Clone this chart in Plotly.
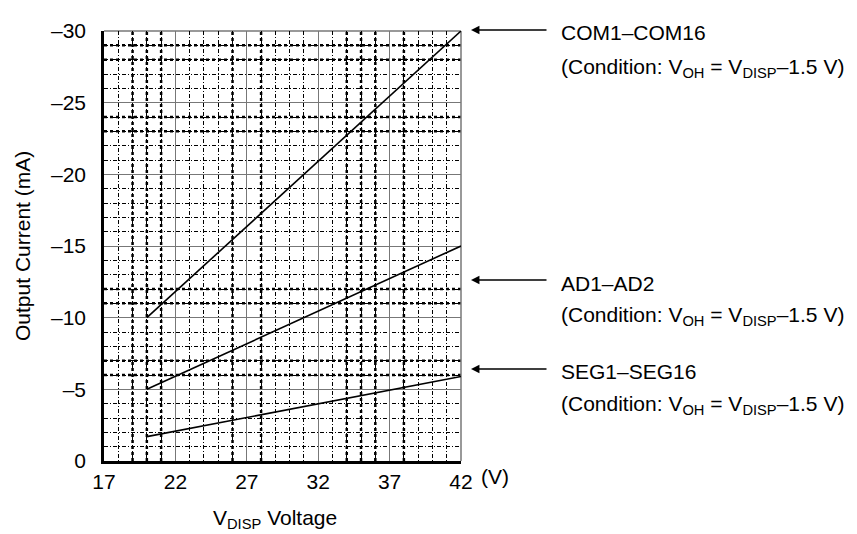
import plotly.graph_objects as go

# ---- data ----
com_x = [20, 42]
com_y = [-10, -30]
ad_x = [20, 42]
ad_y = [-5, -15]
seg_x = [20, 42]
seg_y = [-1.7, -5.9]

x_tickvals = [17, 22, 27, 32, 37, 42]
x_ticktext = ["17", "22", "27", "32", "37", "42"]
y_tickvals = [0, -5, -10, -15, -20, -25, -30]
y_ticktext = ["0", "–5", "–10", "–15", "–20", "–25", "–30"]

thick_x = [19, 20, 21, 26, 28, 34, 35, 36, 38]
thick_y = [-29, -28, -24, -23, -12, -11, -7, -6]

labels = ["COM1–COM16", "AD1–AD2", "SEG1–SEG16"]
condition = "(Condition: V<sub>OH</sub> = V<sub>DISP</sub>–1.5 V)"

# ---- layout geometry (pixels) ----
W, H = 857, 534
L, R, T, B = 96, 453, 23, 453
FONT = "Liberation Sans, Arial, sans-serif"
FS = 21


def px(x):
    return (x - L) / (R - L)


def py(y):
    return (B - y) / (B - T)


fig = go.Figure()

for xs, ys in [(com_x, com_y), (ad_x, ad_y), (seg_x, seg_y)]:
    fig.add_trace(go.Scatter(x=xs, y=ys, mode="lines",
                             line=dict(color="black", width=1.6),
                             hoverinfo="skip", showlegend=False))

shapes = []
for xv in thick_x:
    shapes.append(dict(type="line", xref="x", yref="paper", x0=xv, x1=xv, y0=0, y1=1,
                       line=dict(color="black", width=2.5, dash="dot"), layer="below"))
for yv in thick_y:
    shapes.append(dict(type="line", xref="paper", yref="y", x0=0, x1=1, y0=yv, y1=yv,
                       line=dict(color="black", width=2.5, dash="dot"), layer="below"))
# grey top/right border
shapes.append(dict(type="line", xref="paper", yref="paper", x0=0, x1=1, y0=1, y1=1,
                   line=dict(color="#777777", width=1.5), layer="below"))
shapes.append(dict(type="line", xref="paper", yref="paper", x0=1, x1=1, y0=0, y1=1,
                   line=dict(color="#777777", width=1.5), layer="below"))

annotations = []
arrow_y = [22, 272, 361]
text_y = [25, 275, 363]
cond_y = [60, 308, 397]
for lab, ay, ty, cy in zip(labels, arrow_y, text_y, cond_y):
    annotations.append(dict(xref="paper", yref="paper", x=px(463), y=py(ay),
                            ax=77, ay=0, axref="pixel", ayref="pixel",
                            showarrow=True, arrowhead=2, arrowsize=1.3, arrowwidth=1.3,
                            arrowcolor="black", text=""))
    annotations.append(dict(xref="paper", yref="paper", x=px(551), y=py(ty),
                            xanchor="left", yanchor="middle", showarrow=False,
                            text=lab, font=dict(family=FONT, size=FS, color="black")))
    annotations.append(dict(xref="paper", yref="paper", x=px(551), y=py(cy),
                            xanchor="left", yanchor="middle", showarrow=False,
                            text=condition, font=dict(family=FONT, size=FS, color="black")))

annotations.append(dict(xref="paper", yref="paper", x=px(471), y=py(468),
                        xanchor="left", yanchor="middle", showarrow=False,
                        text="(V)", font=dict(family=FONT, size=FS, color="black")))
annotations.append(dict(xref="paper", yref="paper", x=px(203), y=py(511),
                        xanchor="left", yanchor="middle", showarrow=False,
                        text="V<sub>DISP</sub> Voltage", font=dict(family=FONT, size=FS, color="black")))
annotations.append(dict(xref="paper", yref="paper", x=px(14), y=py(238),
                        xanchor="center", yanchor="middle", showarrow=False, textangle=-90,
                        text="Output Current (mA)", font=dict(family=FONT, size=FS, color="black")))

fig.update_layout(
    width=W, height=H,
    margin=dict(l=L, r=W - R, t=T, b=H - B, pad=0),
    paper_bgcolor="white", plot_bgcolor="white",
    font=dict(family=FONT, size=FS, color="black"),
    showlegend=False,
    shapes=shapes,
    annotations=annotations,
    xaxis=dict(range=[17, 42], tickvals=x_tickvals, ticktext=x_ticktext,
               showgrid=True, gridcolor="#777777", gridwidth=1.2,
               showline=True, linecolor="black", linewidth=2.5, mirror=False,
               ticks="", zeroline=False,
               minor=dict(dtick=1, tick0=17, showgrid=True, gridcolor="black",
                          gridwidth=1, griddash="4px,2px,1px,2px", ticks="")),
    yaxis=dict(range=[0, -30], tickvals=y_tickvals, ticktext=y_ticktext,
               showgrid=True, gridcolor="#777777", gridwidth=1.2,
               showline=True, linecolor="black", linewidth=2.5, mirror=False,
               ticks="outside", ticklen=11, tickcolor="rgba(0,0,0,0)",
               zeroline=False,
               minor=dict(dtick=1, tick0=0, showgrid=True, gridcolor="black",
                          gridwidth=1, griddash="4px,2px,1px,2px", ticks="")),
)

fig.write_html("out.html")
